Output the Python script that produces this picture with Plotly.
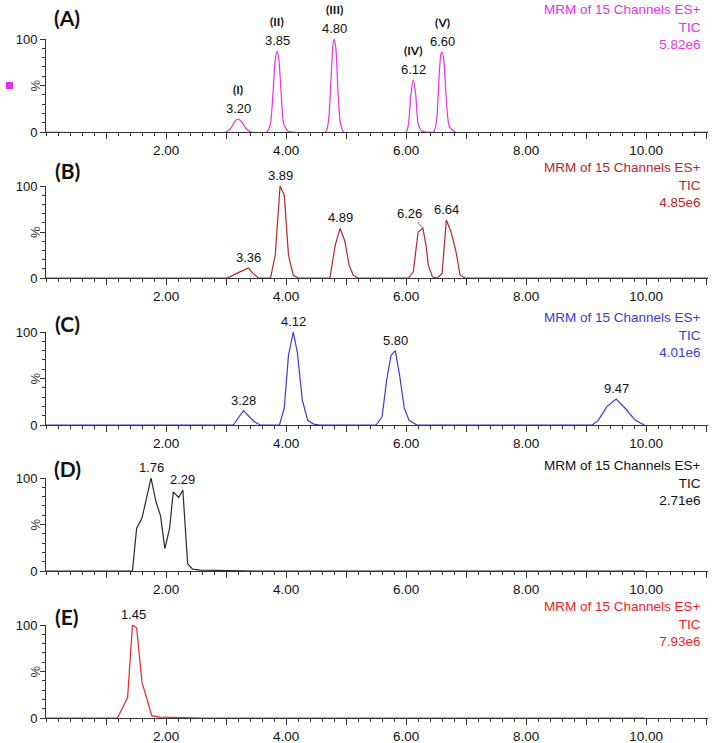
import plotly.graph_objects as go

# ---------------- data ----------------
panel_letters = ["(A)", "(B)", "(C)", "(D)", "(E)"]
panel_colors = ["#E630E6", "#B3272B", "#3B3BD8", "#2A2A2A", "#E8262B"]
panel_scale = ["5.82e6", "4.85e6", "4.01e6", "2.71e6", "7.93e6"]
header_line1 = "MRM of 15 Channels ES+"
header_line2 = "TIC"

# Panel A (retention time, min ; relative intensity, %)
a_time = [0.00, 3.00, 3.08, 3.14, 3.20, 3.26, 3.33, 3.42, 3.68, 3.74, 3.78, 3.82, 3.85,
          3.88, 3.92, 3.96, 4.03, 4.10, 4.66, 4.71, 4.75, 4.78, 4.80, 4.83, 4.86, 4.90,
          4.96, 6.00, 6.04, 6.08, 6.12, 6.16, 6.20, 6.26, 6.34, 6.46, 6.51, 6.55, 6.58,
          6.60, 6.63, 6.67, 6.72, 6.82, 11.03]
a_int = [0, 0, 4, 11, 14, 11, 4, 0, 0, 9, 40, 78, 87,
         78, 40, 9, 1, 0, 0, 14, 58, 93, 100, 90, 50, 12,
         0, 0, 9, 40, 56, 40, 9, 1, 0, 0, 14, 60, 84,
         86, 76, 35, 6, 0, 0]

# Panel B
b_time = [0.00, 3.02, 3.18, 3.37, 3.45, 3.54, 3.74, 3.82, 3.90, 3.97, 4.04, 4.12, 4.20,
          4.73, 4.82, 4.90, 4.98, 5.05, 5.12, 5.20, 6.04, 6.12, 6.20, 6.28, 6.33, 6.37,
          6.44, 6.52, 6.60, 6.67, 6.75, 6.83, 6.90, 6.98, 11.03]
b_int = [0, 0, 5, 11, 5, 0, 0, 25, 100, 90, 25, 3, 0,
         0, 36, 54, 40, 14, 3, 0, 0, 7, 50, 54, 36, 14,
         1, 0, 5, 63, 50, 29, 3, 0, 0]

# Panel C
c_time = [0.00, 3.12, 3.29, 3.46, 3.57, 3.89, 3.97, 4.04, 4.12, 4.19, 4.27, 4.36, 4.46,
          4.56, 5.50, 5.60, 5.68, 5.75, 5.82, 5.89, 5.97, 6.05, 6.18, 9.10, 9.20, 9.35,
          9.50, 9.65, 9.82, 9.97]
c_int = [0, 0, 15.5, 4, 0, 0, 18, 75, 100, 77, 27, 5, 1,
         0, 0, 9, 50, 75, 80, 54, 18, 5, 0, 0, 5, 20,
         28, 18, 5, 0]

# Panel D
d_time = [0.00, 1.44, 1.51, 1.60, 1.75, 1.83, 1.91, 1.98, 2.06, 2.12, 2.21, 2.28, 2.36,
          2.44, 2.57, 3.00, 3.50, 9.97]
d_int = [0, 0, 46, 57, 100, 75, 59, 24, 46, 85, 79, 87, 8,
         2, 1, 0.6, 0, 0]

# Panel E
e_time = [0.00, 1.19, 1.36, 1.44, 1.51, 1.60, 1.68, 1.76, 1.90, 2.10, 2.60, 9.97]
e_int = [0, 0, 22, 100, 97, 38, 21, 2.5, 1, 0.5, 0, 0]

# peak labels: (time, intensity, text)
a_peaks = [(3.20, 14, "3.20"), (3.85, 87, "3.85"), (4.80, 100, "4.80"),
           (6.12, 56, "6.12"), (6.60, 86, "6.60")]
a_numerals = ["(I)", "(II)", "(III)", "(IV)", "(V)"]
b_peaks = [(3.37, 11, "3.36"), (3.90, 100, "3.89"), (4.90, 54, "4.89"),
           (6.67, 63, "6.64")]
b_leader_peak = (6.28, 54, "6.26")
c_peaks = [(3.29, 15.5, "3.28"), (4.12, 100, "4.12"), (5.82, 80, "5.80"), (9.50, 28, "9.47")]
d_peaks = [(1.75, 100, "1.76"), (2.28, 87, "2.29")]
e_peaks = [(1.46, 100, "1.45")]

x_tick_vals = [1, 2, 3, 4, 5, 6, 7, 8, 9, 10, 11]
x_tick_text = ["", "2.00", "", "4.00", "", "6.00", "", "8.00", "", "10.00", ""]
y_tick_vals = [0, 50, 100]
y_tick_text = ["0", "", "100"]

# ---------------- layout geometry ----------------
W, H = 714, 743
L, R = 46, 6
PW = W - L - R
plot_px = [(39, 132), (186, 278), (332, 425), (478, 571), (625, 718)]  # (top, bottom) pixels
letter_py = [17, 170, 323, 468, 616]
header_mid_py = [27, 185, 335, 483, 624]

FONT = "Liberation Sans, Arial, sans-serif"
BOLD = "Lato, Liberation Sans, sans-serif"
AX = "#333333"


def px_x(px):
    return (px - L) / PW


def px_y(py):
    return 1 - py / H


fig = go.Figure()
series = [(a_time, a_int), (b_time, b_int), (c_time, c_int), (d_time, d_int), (e_time, e_int)]
shapes = ["spline", "linear", "linear", "linear", "linear"]

annotations = []
for i, ((t, v), col) in enumerate(zip(series, panel_colors)):
    n = i + 1
    xa = "x" if n == 1 else f"x{n}"
    ya = "y" if n == 1 else f"y{n}"
    fig.add_trace(go.Scatter(
        x=t, y=v, mode="lines", xaxis=xa, yaxis=ya,
        line=dict(color=col, width=1.2, shape=shapes[i], smoothing=0.6),
        cliponaxis=False, showlegend=False, hoverinfo="x+y"))
    top, bot = plot_px[i]
    dom = [px_y(bot), px_y(top)]
    xkey = "xaxis" if n == 1 else f"xaxis{n}"
    ykey = "yaxis" if n == 1 else f"yaxis{n}"
    fig.layout[xkey] = dict(
        domain=[0, 1], anchor=ya, range=[0, 11.03], showgrid=False, zeroline=False,
        showline=True, linecolor=AX, linewidth=1, automargin=False,
        tickmode="array", tickvals=x_tick_vals, ticktext=x_tick_text,
        ticks="outside", ticklen=6, tickcolor=AX, tickwidth=1,
        minor=dict(dtick=0.2, ticks="outside", ticklen=3, tickcolor=AX, tickwidth=1, showgrid=False),
        tickfont=dict(family=FONT, size=13.5, color="#111111"),
        fixedrange=True)
    fig.layout[ykey] = dict(
        domain=dom, anchor=xa, range=[0, 100], showgrid=False, zeroline=False,
        showline=True, linecolor=AX, linewidth=1, automargin=False,
        tickmode="array", tickvals=y_tick_vals, ticktext=y_tick_text,
        ticks="outside", ticklen=5, tickcolor=AX, tickwidth=1,
        minor=dict(dtick=10, ticks="outside", ticklen=3, tickcolor=AX, tickwidth=1, showgrid=False),
        tickfont=dict(family=FONT, size=13, color="#111111"),
        fixedrange=True)

    # "%" axis label
    annotations.append(dict(
        text="%", x=px_x(35), y=px_y((top + bot) / 2), xref="paper", yref="paper",
        showarrow=False, textangle=-90, font=dict(family=FONT, size=13, color="#333333"),
        xanchor="center", yanchor="middle"))
    # panel letter
    annotations.append(dict(
        text=f"<b>{panel_letters[i]}</b>", x=px_x(67), y=px_y(letter_py[i]),
        xref="paper", yref="paper", showarrow=False,
        font=dict(family=BOLD, size=21, color="#111111"), xanchor="center", yanchor="middle"))
    # header text (right aligned, three lines)
    annotations.append(dict(
        text="<br>".join([header_line1, header_line2, panel_scale[i]]),
        x=px_x(703), y=px_y(header_mid_py[i]), xref="paper", yref="paper",
        showarrow=False, xanchor="right", yanchor="middle", align="right",
        font=dict(family=FONT, size=13.5, color=panel_colors[i] if i != 3 else "#111111")))


def peak_labels(peaks, n):
    xa = "x" if n == 1 else f"x{n}"
    ya = "y" if n == 1 else f"y{n}"
    out = []
    for (t, v, txt) in peaks:
        out.append(dict(text=txt, x=t, y=v, xref=xa, yref=ya, showarrow=False,
                        yanchor="bottom", yshift=1,
                        font=dict(family=FONT, size=13, color="#111111")))
    return out


annotations += peak_labels(a_peaks, 1)
for (t, v, _), num in zip(a_peaks, a_numerals):
    annotations.append(dict(text=f"<b>{num}</b>", x=t, y=v, xref="x", yref="y", showarrow=False,
                            yanchor="bottom", yshift=20,
                            font=dict(family=BOLD, size=12, color="#111111")))
annotations += peak_labels(b_peaks, 2)
annotations.append(dict(text=b_leader_peak[2], x=b_leader_peak[0], y=b_leader_peak[1],
                        xref="x2", yref="y2", showarrow=True, arrowhead=0, arrowwidth=0.8,
                        arrowcolor="#555555", ax=-13, ay=-15,
                        font=dict(family=FONT, size=13, color="#111111")))
annotations += peak_labels(c_peaks, 3)
annotations += peak_labels(d_peaks, 4)
annotations += peak_labels(e_peaks, 5)

# small magenta square marker
shapes_list = [dict(type="rect", xref="paper", yref="paper",
                    x0=px_x(6), x1=px_x(13), y0=px_y(89), y1=px_y(82),
                    fillcolor="#E630E6", line=dict(width=0))]

fig.update_layout(
    width=W, height=H, margin=dict(l=L, r=R, t=0, b=0, pad=0, autoexpand=False),
    paper_bgcolor="white", plot_bgcolor="white",
    annotations=annotations, shapes=shapes_list, showlegend=False)

fig.write_html("out.html", config={"displayModeBar": False},
               post_script="document.body.style.margin='0';document.body.style.padding='0';")
